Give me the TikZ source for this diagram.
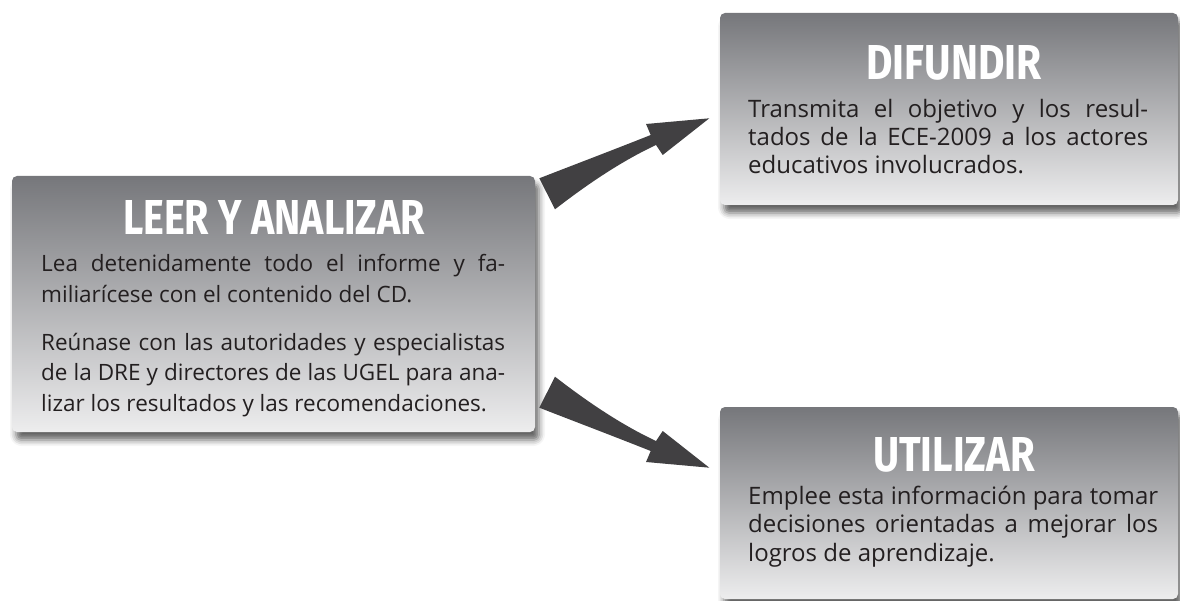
\documentclass[tikz,border=0pt]{standalone}
\usepackage{fontspec}
\setmainfont{Open Sans}
\newfontfamily\titlefont{Fira Sans}
\usetikzlibrary{shadows.blur}
\definecolor{boxtop}{RGB}{118,119,123}
\definecolor{boxbot}{RGB}{237,237,238}
\definecolor{arrowgray}{RGB}{65,64,66}
\definecolor{bodyink}{RGB}{35,31,32}
\begin{document}
\begin{tikzpicture}[x=1pt,y=-1pt,
  panel/.style={rounded corners=5pt, inner sep=0pt, outer sep=0pt,
    top color=boxtop, bottom color=boxbot,
    blur shadow={shadow xshift=4pt, shadow yshift=-8pt, shadow blur radius=6pt, shadow opacity=60}},
  titletext/.style={inner sep=0pt, text=white, anchor=base},
  bodytext/.style={inner sep=0pt, text=bodyink, align=justify, anchor=base west},
  bigarrow/.style={fill=arrowgray, draw=none}]
\useasboundingbox (0,0) rectangle (1180,601);

% boxes
\node[panel, anchor=north west, minimum width=523pt, minimum height=256pt] (leer) at (12,176) {};
\node[panel, anchor=north west, minimum width=458pt, minimum height=192pt] (difundir) at (720,13) {};
\node[panel, anchor=north west, minimum width=458pt, minimum height=192pt] (utilizar) at (720,407) {};

% titles
\node[titletext] (leerT) at (274,235) {\resizebox{302pt}{34pt}{\titlefont\bfseries LEER Y ANALIZAR}};
\node[titletext] (difundirT) at (954,80) {\resizebox{175pt}{34pt}{\titlefont\bfseries DIFUNDIR}};
\node[titletext] (utilizarT) at (954,471) {\resizebox{162pt}{34pt}{\titlefont\bfseries UTILIZAR}};

% body texts
\node[bodytext, text width=464pt, font=\fontsize{22.5}{30.8}\selectfont] (leerA) at (41,272)
  {Lea detenidamente todo el informe y fa-\linebreak miliarícese con el contenido del CD.};
\node[bodytext, text width=464pt, font=\fontsize{22.5}{30.8}\selectfont] (leerB) at (41,350)
  {Reúnase con las autoridades y especialistas\linebreak de la DRE y directores de las UGEL para ana-\linebreak lizar los resultados y las recomendaciones.};
\node[bodytext, text width=400pt, font=\fontsize{24}{28}\selectfont] (difundirA) at (748,118)
  {Transmita el objetivo y los resul-\linebreak tados de la ECE-2009 a los actores\linebreak educativos involucrados.};
\node[bodytext, text width=410pt, font=\fontsize{24}{28.7}\selectfont] (utilizarA) at (748,504)
  {Emplee esta información para tomar\linebreak decisiones orientadas a mejorar los\linebreak logros de aprendizaje.};

% arrows
\coordinate (up1) at (539.3,178.3);
\coordinate (up2) at (555,209.3);
\coordinate (upTip) at (709.3,118.3);
\fill[bigarrow] (up1) .. controls (576,164) and (613,150) .. (650.7,135) -- (646,124) -- (upTip)
  -- (662.7,155) -- (656,145) .. controls (622,161) and (589,183) .. (up2) -- cycle;
\coordinate (dn1) at (539.3,407.7);
\coordinate (dn2) at (555,376.7);
\coordinate (dnTip) at (709.3,467.7);
\fill[bigarrow] (dn1) .. controls (576,422) and (613,436) .. (650.7,451) -- (646,462) -- (dnTip)
  -- (662.7,431) -- (656,441) .. controls (622,425) and (589,403) .. (dn2) -- cycle;
\end{tikzpicture}
\end{document}
